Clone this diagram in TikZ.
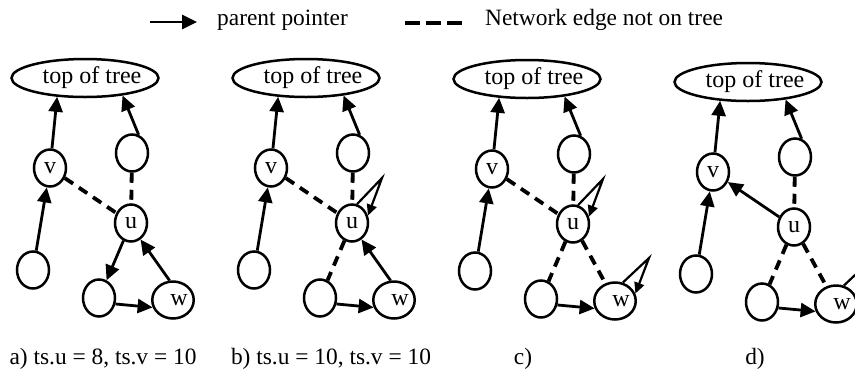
\documentclass[tikz,border=0pt]{standalone}
\usepackage{fontspec}
\setmainfont{Liberation Serif}
\usetikzlibrary{arrows.meta,shapes.geometric}

\def\panelsep{221}

\begin{document}
\begin{tikzpicture}[x=1pt,y=-1pt,>={Triangle[length=15pt,width=14pt]}]
    \tikzstyle{vertex}=[ellipse,draw,line width=2.5pt,minimum width=32pt,minimum height=37pt,inner sep=0pt,font=\fontsize{24}{28}\selectfont]
    \tikzstyle{root}=[vertex,minimum width=147pt,minimum height=38pt]
    \tikzstyle{ptr}=[->,line width=2.8pt]
    \tikzstyle{nontree}=[line width=3.8pt,dash pattern=on 10pt off 7pt]
    \tikzstyle{selfptr}=[-{Triangle[length=11pt,width=10pt]},line width=2.2pt]
    \tikzstyle{annot}=[font=\fontsize{23.4}{27}\selectfont,inner sep=0pt]

    \useasboundingbox (0,0) rectangle (855,373);
    \clip (0,0) rectangle (855,373);

    %%% LEGEND
    \coordinate (P0) at (150,22);
    \coordinate (P1) at (197,22);
    \coordinate (N0) at (405,23);
    \coordinate (N1) at (462,23);
    \draw[ptr] (P0) -- (P1);
    \node[annot,anchor=base west] (ptr-txt) at (217,25) {parent pointer};
    \draw[nontree,line width=4pt,dash pattern=on 15pt off 6pt] (N0) -- (N1);
    \node[annot,anchor=base west] (net-txt) at (485,25) {Network edge not on tree};

    %%% DRAW THE NODES
    \foreach \p/\dx/\dy in {1/0/0,2/221/0,3/442/1,4/663/4} {
        \node[root] (T-\p) at (\dx+85,\dy+78) {\makebox[97pt]{\hspace*{14pt}top of tree}};
        \node[vertex] (V-\p) at (\dx+50,\dy+168) {v};
        \node[vertex] (R-\p) at (\dx+132,\dy+153) {};
        \node[vertex] (U-\p) at (\dx+131,\dy+223) {u};
        \node[vertex] (L-\p) at (\dx+33,\dy+270) {};
        \node[vertex] (M-\p) at (\dx+99,\dy+298) {};
        \node[vertex] (W-\p) at (\dx+173,\dy+300) {\hspace*{12pt}w};
        \coordinate (UA-\p) at (\dx+161,\dy+178);
        \coordinate (WA-\p) at (\dx+207,\dy+257);
    }

    %%% DRAW THE PATHS
    \foreach \p in {1,...,4} {
        \draw[ptr] (V-\p) -- (T-\p.-146);
        \draw[ptr] (R-\p.70) -- (T-\p.-25);
        \draw[ptr] (L-\p) -- (V-\p);
        \draw[ptr] (M-\p.-20) -- (W-\p.-160);
        \draw[nontree] (R-\p) -- (U-\p);
    }
    \foreach \p in {1,2,3}
        \draw[nontree] (V-\p) -- (U-\p);
    \foreach \p in {2,3,4}
        \draw[nontree] (U-\p) -- (M-\p);
    \foreach \p in {3,4}
        \draw[nontree] (U-\p) -- (W-\p);
    \foreach \p in {1,2}
        \draw[ptr] (W-\p.100) -- (U-\p.-60);
    \draw[ptr] (U-1) -- (M-1);
    \draw[ptr] (U-4) -- (V-4);

    % self pointers
    \foreach \p in {2,3}
        \draw[selfptr] (U-\p.75) -- (UA-\p) -- (U-\p.25);
    \foreach \p in {3,4}
        \draw[selfptr] (W-\p.67) -- (WA-\p) -- (W-\p.20);

    %%% ANOTATE
    \node[annot,anchor=base] (cap-1) at (103,364) {a) ts.u = 8, ts.v = 10};
    \node[annot,anchor=base] (cap-2) at (331,364) {b) ts.u = 10, ts.v = 10};
    \node[annot,anchor=base] (cap-3) at (523,364) {c)};
    \node[annot,anchor=base] (cap-4) at (755,364) {d)};
\end{tikzpicture}
\end{document}
